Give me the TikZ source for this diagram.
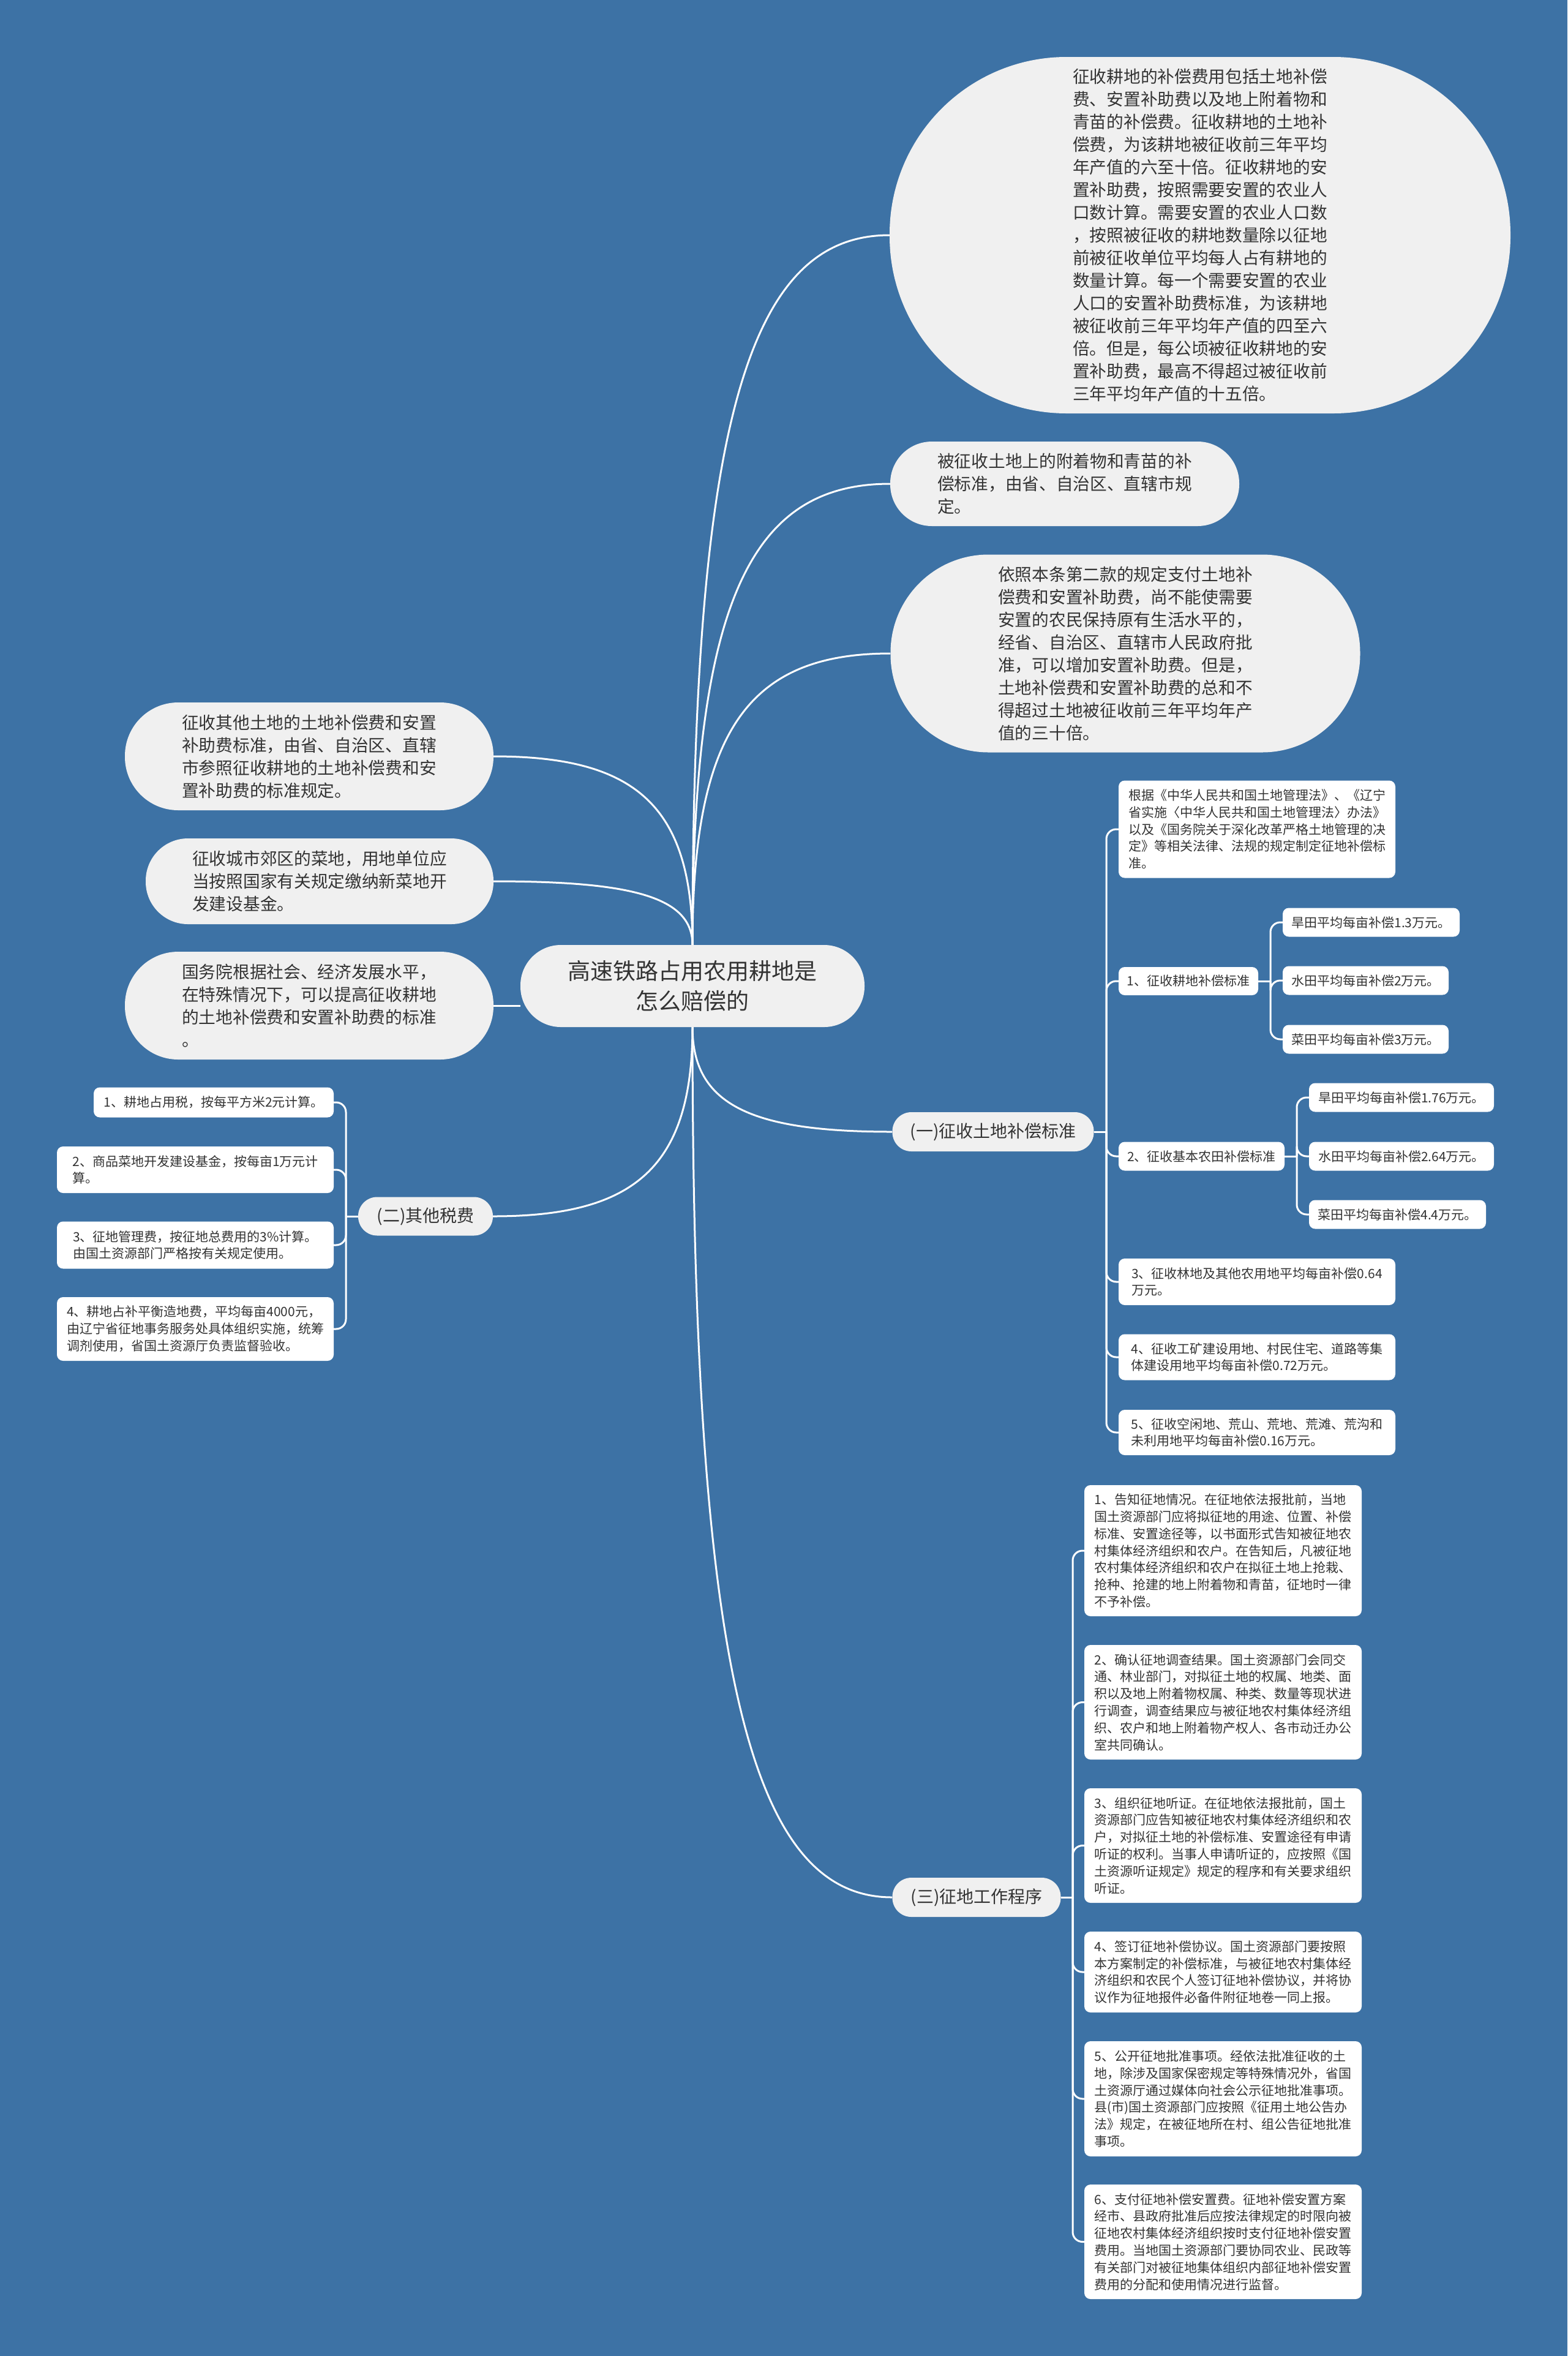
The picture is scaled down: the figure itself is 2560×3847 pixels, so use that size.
\documentclass[tikz,border=0pt]{standalone}
\usepackage{fontspec}
\setmainfont{Noto Sans CJK SC}
\usetikzlibrary{calc}
\definecolor{bgblue}{HTML}{3D72A5}
\definecolor{pillfill}{HTML}{F0F0F0}
\definecolor{txt}{HTML}{333333}
\pgfdeclarelayer{bg}
\pgfdeclarelayer{lines}
\pgfsetlayers{bg,lines,main}
\tikzset{
  pill/.style={fill=pillfill, text=txt, inner sep=0pt, align=left, font=\fontsize{27.7}{37}\selectfont},
  rootnode/.style={pill, font=\fontsize{37}{49}\selectfont, align=center},
  branch/.style={pill, font=\fontsize{28}{34}\selectfont},
  leaf/.style={fill=white, text=txt, rounded corners=10pt, inner sep=0pt, align=left, font=\fontsize{21}{27.8}\selectfont},
  link/.style={draw=white, line width=3pt},
}
\newcommand\mmlink[2]{%
  \coordinate (mmk) at (#1 |- #2);
  \coordinate (mmp) at ($(#1)!0.75!(mmk)$);
  \coordinate (mmq) at ($(#2)!0.7!(mmk)$);
  \draw[link] (#1) .. controls (mmp) and (mmq) .. (#2);}
\newcommand\brk[2]{\draw[link, rounded corners=16pt] (#1) |- (#2);}
\begin{document}
\begin{tikzpicture}[x=1pt,y=-1pt]
\useasboundingbox (0,0) rectangle (2560,3847);
% ---------- nodes ----------
\node[pill, rounded corners=289pt, minimum width=1014pt, minimum height=582pt] (a1) at (1960,384) {征收耕地的补偿费用包括土地补偿\\费、安置补助费以及地上附着物和\\青苗的补偿费。征收耕地的土地补\\偿费，为该耕地被征收前三年平均\\年产值的六至十倍。征收耕地的安\\置补助费，按照需要安置的农业人\\口数计算。需要安置的农业人口数\\，按照被征收的耕地数量除以征地\\前被征收单位平均每人占有耕地的\\数量计算。每一个需要安置的农业\\人口的安置补助费标准，为该耕地\\被征收前三年平均年产值的四至六\\倍。但是，每公顷被征收耕地的安\\置补助费，最高不得超过被征收前\\三年平均年产值的十五倍。};
\node[pill, rounded corners=68pt, minimum width=570pt, minimum height=138pt] (a2) at (1739,790) {被征收土地上的附着物和青苗的补\\偿标准，由省、自治区、直辖市规\\定。};
\node[pill, rounded corners=160pt, minimum width=767pt, minimum height=323pt] (a3) at (1838,1067) {依照本条第二款的规定支付土地补\\偿费和安置补助费，尚不能使需要\\安置的农民保持原有生活水平的，\\经省、自治区、直辖市人民政府批\\准，可以增加安置补助费。但是，\\土地补偿费和安置补助费的总和不\\得超过土地被征收前三年平均年产\\值的三十倍。};
\node[pill, rounded corners=87pt, minimum width=602pt, minimum height=176pt] (l1) at (505,1235) {征收其他土地的土地补偿费和安置\\补助费标准，由省、自治区、直辖\\市参照征收耕地的土地补偿费和安\\置补助费的标准规定。};
\node[pill, rounded corners=69pt, minimum width=568pt, minimum height=140pt] (l2) at (522,1439) {征收城市郊区的菜地，用地单位应\\当按照国家有关规定缴纳新菜地开\\发建设基金。};
\node[pill, rounded corners=87pt, minimum width=602pt, minimum height=176pt] (l3) at (505,1642) {国务院根据社会、经济发展水平，\\在特殊情况下，可以提高征收耕地\\的土地补偿费和安置补助费的标准\\。};
\node[rootnode, rounded corners=66pt, minimum width=562pt, minimum height=134pt] (root) at (1131,1610) {高速铁路占用农用耕地是\\怎么赔偿的};
\node[branch, rounded corners=31pt, minimum width=220pt, minimum height=63pt] (er) at (695,1986) {(二)其他税费};
\node[branch, rounded corners=31pt, minimum width=329pt, minimum height=64pt] (yi) at (1622,1848) {(一)征收土地补偿标准};
\node[branch, rounded corners=31pt, minimum width=275pt, minimum height=64pt] (san) at (1595,3098) {(三)征地工作程序};
% (二) leaves
\node[leaf, minimum width=392pt, minimum height=49pt] (t1) at (349,1800) {1、耕地占用税，按每平方米2元计算。};
\node[leaf, minimum width=452pt, minimum height=76pt] (t2) at (319,1910) {2、商品菜地开发建设基金，按每亩1万元计\\算。};
\node[leaf, minimum width=452pt, minimum height=77pt] (t3) at (319,2033) {3、征地管理费，按征地总费用的3\%计算。\\由国土资源部门严格按有关规定使用。};
\node[leaf, minimum width=452pt, minimum height=104pt] (t4) at (319,2170) {4、耕地占补平衡造地费，平均每亩4000元，\\由辽宁省征地事务服务处具体组织实施，统筹\\调剂使用，省国土资源厅负责监督验收。};
% (一) leaves
\node[leaf, minimum width=452pt, minimum height=159pt] (c0) at (2053,1354) {根据《中华人民共和国土地管理法》、《辽宁\\省实施〈中华人民共和国土地管理法〉办法》\\以及《国务院关于深化改革严格土地管理的决\\定》等相关法律、法规的规定制定征地补偿标\\准。};
\node[leaf, minimum width=228pt, minimum height=46pt] (c1) at (1941,1602) {1、征收耕地补偿标准};
\node[leaf, minimum width=289pt, minimum height=47pt] (c1a) at (2239.5,1506) {旱田平均每亩补偿1.3万元。};
\node[leaf, minimum width=271pt, minimum height=47pt] (c1b) at (2230.5,1601) {水田平均每亩补偿2万元。};
\node[leaf, minimum width=271pt, minimum height=47pt] (c1c) at (2230.5,1697) {菜田平均每亩补偿3万元。};
\node[leaf, minimum width=271pt, minimum height=47pt] (c2) at (1962.5,1888) {2、征收基本农田补偿标准};
\node[leaf, minimum width=302pt, minimum height=47pt] (c2a) at (2289,1792) {旱田平均每亩补偿1.76万元。};
\node[leaf, minimum width=302pt, minimum height=47pt] (c2b) at (2289,1888) {水田平均每亩补偿2.64万元。};
\node[leaf, minimum width=289pt, minimum height=47pt] (c2c) at (2282.5,1983) {菜田平均每亩补偿4.4万元。};
\node[leaf, minimum width=452pt, minimum height=76pt] (c3) at (2053,2093) {3、征收林地及其他农用地平均每亩补偿0.64\\万元。};
\node[leaf, minimum width=452pt, minimum height=75pt] (c4) at (2053,2216) {4、征收工矿建设用地、村民住宅、道路等集\\体建设用地平均每亩补偿0.72万元。};
\node[leaf, minimum width=452pt, minimum height=74pt] (c5) at (2053,2339) {5、征收空闲地、荒山、荒地、荒滩、荒沟和\\未利用地平均每亩补偿0.16万元。};
% (三) leaves
\node[leaf, minimum width=453pt, minimum height=214pt] (p1) at (1997.5,2532) {1、告知征地情况。在征地依法报批前，当地\\国土资源部门应将拟征地的用途、位置、补偿\\标准、安置途径等，以书面形式告知被征地农\\村集体经济组织和农户。在告知后，凡被征地\\农村集体经济组织和农户在拟征土地上抢栽、\\抢种、抢建的地上附着物和青苗，征地时一律\\不予补偿。};
\node[leaf, minimum width=453pt, minimum height=187pt] (p2) at (1997.5,2779.5) {2、确认征地调查结果。国土资源部门会同交\\通、林业部门，对拟征土地的权属、地类、面\\积以及地上附着物权属、种类、数量等现状进\\行调查，调查结果应与被征地农村集体经济组\\织、农户和地上附着物产权人、各市动迁办公\\室共同确认。};
\node[leaf, minimum width=453pt, minimum height=187pt] (p3) at (1997.5,3013.5) {3、组织征地听证。在征地依法报批前，国土\\资源部门应告知被征地农村集体经济组织和农\\户，对拟征土地的补偿标准、安置途径有申请\\听证的权利。当事人申请听证的，应按照《国\\土资源听证规定》规定的程序和有关要求组织\\听证。};
\node[leaf, minimum width=453pt, minimum height=132pt] (p4) at (1997.5,3220) {4、签订征地补偿协议。国土资源部门要按照\\本方案制定的补偿标准，与被征地农村集体经\\济组织和农民个人签订征地补偿协议，并将协\\议作为征地报件必备件附征地卷一同上报。};
\node[leaf, minimum width=453pt, minimum height=188pt] (p5) at (1997.5,3427) {5、公开征地批准事项。经依法批准征收的土\\地，除涉及国家保密规定等特殊情况外，省国\\土资源厅通过媒体向社会公示征地批准事项。\\县(市)国土资源部门应按照《征用土地公告办\\法》规定，在被征地所在村、组公告征地批准\\事项。};
\node[leaf, minimum width=453pt, minimum height=187pt] (p6) at (1997.5,3660.5) {6、支付征地补偿安置费。征地补偿安置方案\\经市、县政府批准后应按法律规定的时限向被\\征地农村集体经济组织按时支付征地补偿安置\\费用。当地国土资源部门要协同农业、民政等\\有关部门对被征地集体组织内部征地补偿安置\\费用的分配和使用情况进行监督。};
% ---------- connectors ----------
\begin{pgfonlayer}{lines}
\mmlink{root.north}{a1.west}
\mmlink{root.north}{a2.west}
\mmlink{root.north}{a3.west}
\mmlink{root.north}{l1.east}
\mmlink{root.north}{l2.east}
\draw[link] (l3.east) -- (root.west |- l3.east);
\mmlink{root.south}{er.east}
\mmlink{root.south}{yi.west}
\mmlink{root.south}{san.west}
\coordinate (jer) at (565,1986);
\draw[link] (er.west) -- (jer);
\brk{jer}{t1.east}\brk{jer}{t2.east}\brk{jer}{t3.east}\brk{jer}{t4.east}
\coordinate (jyi) at (1807,1848);
\draw[link] (yi.east) -- (jyi);
\brk{jyi}{c0.west}\brk{jyi}{c1.west}\brk{jyi}{c2.west}\brk{jyi}{c3.west}\brk{jyi}{c4.west}\brk{jyi}{c5.west}
\coordinate (jc1) at (2075,1602);
\draw[link] (c1.east) -- (jc1);
\brk{jc1}{c1a.west}\brk{jc1}{c1b.west}\brk{jc1}{c1c.west}
\coordinate (jc2) at (2118,1888);
\draw[link] (c2.east) -- (jc2);
\brk{jc2}{c2a.west}\brk{jc2}{c2b.west}\brk{jc2}{c2c.west}
\coordinate (jsan) at (1752,3098);
\draw[link] (san.east) -- (jsan);
\brk{jsan}{p1.west}\brk{jsan}{p2.west}\brk{jsan}{p3.west}\brk{jsan}{p4.west}\brk{jsan}{p5.west}\brk{jsan}{p6.west}
\end{pgfonlayer}
\begin{pgfonlayer}{bg}
\fill[bgblue] (0,0) rectangle (2560,3847);
\end{pgfonlayer}
\end{tikzpicture}
\end{document}
